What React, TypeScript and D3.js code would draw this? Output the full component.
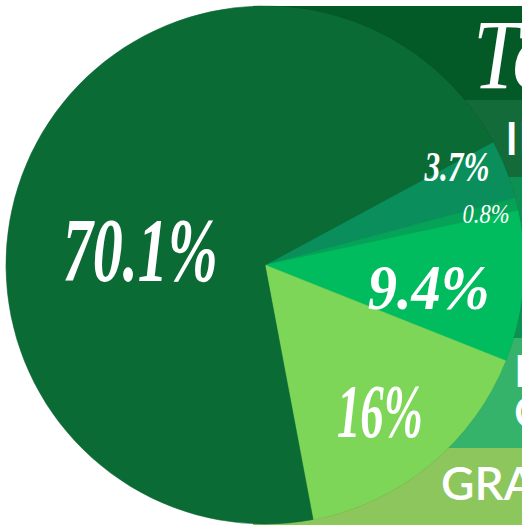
import React from "react";
import * as d3 from "d3";

const WIDTH = 522;
const HEIGHT = 525;
const CX = 265;
const CY = 265;
const RADIUS = 259;
const START_DEG = 61.66;

// slices, clockwise from the top right
const shares = [3.7, 0.8, 9.4, 16, 70.1];
const shareLabels = ["3.7%", "0.8%", "9.4%", "16%", "70.1%"];
const sliceColors = ["#0a8f5c", "#06a257", "#00bc5e", "#7ed658", "#0a6b35"];

// legend bands behind the pie
const bandLabels = [["To"], ["IN-STATE"], [""], ["EARLY", "COLLEGE"], ["GRADUATE"]];
const bandColors = ["#035a27", "#146b3a", "#0d9153", "#36b36a", "#8cc65c"];

// layout for the percentage labels: angle (deg), radius, size, width, weight
const LABEL_LAYOUT = [
    {a: 62.7, r: 216, size: 42, w: 65, bold: true},
    {a: 76.8, r: 227, size: 28, w: 47, bold: false},
    {a: 97.3, r: 165, size: 64, w: 122, bold: true},
    {a: 141.6, r: 185, size: 76, w: 86, bold: true},
    {a: 277.7, r: 126, size: 90, w: 155, bold: true},
];

const BANDS = [
    {y0: 6, y1: 100},
    {y0: 100, y1: 177},
    {y0: 177, y1: 338},
    {y0: 338, y1: 448},
    {y0: 448, y1: 525},
];

const SCRIPT_FONT = "'Liberation Serif', 'DejaVu Serif', serif";
const SANS_FONT = "Lato, 'Open Sans', sans-serif";

export default class App extends React.Component<{}, any> {

    ref = React.createRef<SVGSVGElement>();

    componentDidMount() {
        const svg = d3.select(this.ref.current);
        svg.selectAll("*").remove();

        // bands
        const bands = svg.append("g");
        bands.selectAll("rect")
            .data(BANDS)
            .enter()
            .append("rect")
            .attr("x", 253)
            .attr("y", d => d.y0)
            .attr("width", WIDTH - 253)
            .attr("height", d => d.y1 - d.y0)
            .attr("fill", (d, i) => bandColors[i]);

        // title
        svg.append("text")
            .attr("x", 473)
            .attr("y", 88)
            .attr("fill", "#fff")
            .attr("font-family", SCRIPT_FONT)
            .attr("font-style", "italic")
            .attr("font-size", 100)
            .attr("textLength", 82)
            .attr("lengthAdjust", "spacingAndGlyphs")
            .text(bandLabels[0][0]);

        const legendText = [
            {x: 505, y: 155, lines: bandLabels[1]},
            {x: 514, y: 387, lines: bandLabels[3]},
            {x: 441, y: 500, lines: bandLabels[4]},
        ];
        legendText.forEach(t => {
            t.lines.forEach((line, j) => {
                svg.append("text")
                    .attr("x", t.x)
                    .attr("y", t.y + j * 41)
                    .attr("fill", "#fff")
                    .attr("font-family", SANS_FONT)
                    .attr("font-weight", 600)
                    .attr("font-size", t.lines.length > 1 ? 44 : 46)
                    .text(line);
            });
        });

        // pie
        const pie = d3.pie<number>()
            .sort(null)
            .value(d => d)
            .startAngle(START_DEG * Math.PI / 180)
            .endAngle((START_DEG + 360) * Math.PI / 180);
        const arc = d3.arc<d3.PieArcDatum<number>>().innerRadius(0).outerRadius(RADIUS);

        const g = svg.append("g").attr("transform", `translate(${CX},${CY})`);

        g.append("circle")
            .attr("r", RADIUS + 0.6)
            .attr("fill", "rgba(0,0,0,0.12)");

        g.selectAll("path")
            .data(pie(shares))
            .enter()
            .append("path")
            .attr("d", arc)
            .attr("fill", (d, i) => sliceColors[i])
            .attr("stroke", (d, i) => sliceColors[i])
            .attr("stroke-width", 0.5);

        g.selectAll(".lbl")
            .data(shareLabels)
            .enter()
            .append("text")
            .attr("class", "lbl")
            .attr("x", (d, i) => LABEL_LAYOUT[i].r * Math.sin(LABEL_LAYOUT[i].a * Math.PI / 180))
            .attr("y", (d, i) => -LABEL_LAYOUT[i].r * Math.cos(LABEL_LAYOUT[i].a * Math.PI / 180) + LABEL_LAYOUT[i].size * 0.36)
            .attr("text-anchor", "middle")
            .attr("fill", "#fff")
            .attr("font-family", SCRIPT_FONT)
            .attr("font-style", "italic")
            .attr("font-weight", (d, i) => LABEL_LAYOUT[i].bold ? "bold" : "normal")
            .attr("font-size", (d, i) => LABEL_LAYOUT[i].size)
            .attr("textLength", (d, i) => LABEL_LAYOUT[i].w)
            .attr("lengthAdjust", "spacingAndGlyphs")
            .text(d => d);
    }

    render() {
        return (
            <div>
                <style>{`body{margin:0}`}</style>
                <svg ref={this.ref} width={WIDTH} height={HEIGHT} style={{display: "block", background: "#fff"}}/>
            </div>
        );
    }
}
